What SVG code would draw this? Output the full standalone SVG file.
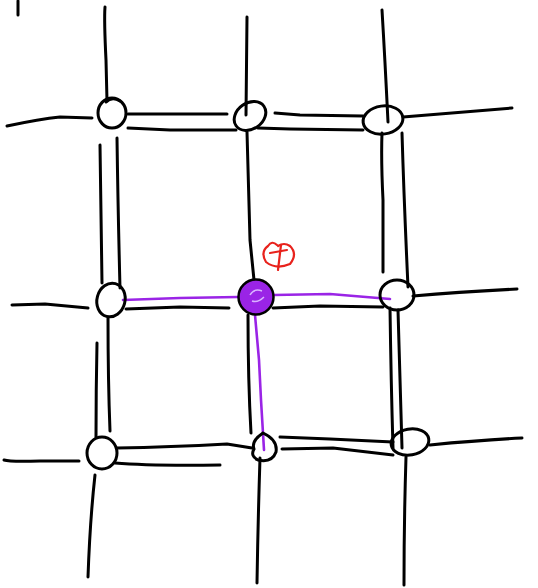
<svg xmlns="http://www.w3.org/2000/svg" width="538" height="588" viewBox="0 0 538 588">
<style>
.k{fill:none;stroke:#000;stroke-width:3;stroke-linecap:round;stroke-linejoin:round}
.n{fill:none;stroke:#000;stroke-width:3}
.p{fill:none;stroke:#9a24e6;stroke-width:2.6;stroke-linecap:round}
.r{fill:none;stroke:#e8221c;stroke-width:2.2;stroke-linecap:round;stroke-linejoin:round}
</style>
<rect width="538" height="588" fill="#fff"/>
<g id="connectors">
<path class="k" d="M18 1 L18 15"/>
<!-- top verticals -->
<path class="k" d="M105 7 Q104 20 106 60 L107 101"/>
<path class="k" d="M247 17 L246 115"/>
<path class="k" d="M382 10 Q385 60 388 122"/>
<!-- row 1 horizontals -->
<path class="k" d="M7 126 Q40 119 60 117 L92 118"/>
<path class="k" d="M128 114 L170 114 L227 114"/>
<path class="k" d="M128 128 L170 130 L236 130"/>
<path class="k" d="M258 128 L290 129 L363 130"/>
<path class="k" d="M275 113 L300 115 L363 116"/>
<path class="k" d="M403 117 Q450 113 512 108"/>
<!-- between row1 and row2 -->
<path class="k" d="M100 145 Q101 210 102 283"/>
<path class="k" d="M117 138 Q118 210 120 288"/>
<path class="k" d="M247 132 Q249 200 250 240 L254 280"/>
<path class="k" d="M382 133 Q381 160 383 200 L383 272"/>
<path class="k" d="M402 133 Q404 200 408 287"/>
<!-- row 2 horizontals -->
<path class="k" d="M12 305 L45 304 L88 308"/>
<path class="k" d="M126 309 L180 307 L229 308"/>
<path class="k" d="M273 308 L320 306 L383 307"/>
<path class="k" d="M413 296 Q460 292 517 289"/>
<!-- between row2 and row3 -->
<path class="k" d="M97 343 Q96 390 96 437"/>
<path class="k" d="M108 317 Q108 380 110 431"/>
<path class="k" d="M248 315 Q248 380 251 433"/>
<path class="k" d="M390 308 Q391 380 393 448"/>
<path class="k" d="M398 310 Q400 380 402 448"/>
<!-- row 3 horizontals -->
<path class="k" d="M4 460 Q10 462 40 461 L79 461"/>
<path class="k" d="M117 448 Q170 447 227 444 L252 448"/>
<path class="k" d="M115 463 Q150 466 220 465"/>
<path class="k" d="M280 437 L330 439 L393 442"/>
<path class="k" d="M282 449 L333 448 L393 455"/>
<path class="k" d="M430 445 Q480 440 522 438"/>
<!-- bottom verticals -->
<path class="k" d="M95 475 Q90 520 88 577"/>
<path class="k" d="M260 458 Q258 520 257 583"/>
<path class="k" d="M406 457 Q404 520 404 585"/>
<!-- purple path -->
<path class="p" d="M123 300 L180 298 L238 297"/>
<path class="p" d="M274 295 L330 294 L390 299"/>
<path class="p" d="M255 315 L259 360 L261 400 L264 450"/>
</g>
<g id="node-r1c1"><ellipse class="n" cx="112" cy="113" rx="14" ry="15"/><path class="k" d="M106 102 Q112 96 120 101"/></g>
<g id="node-r1c2"><ellipse class="n" cx="250" cy="116" rx="17" ry="13" transform="rotate(-35 250 116)"/></g>
<g id="node-r1c3"><ellipse class="n" cx="383" cy="120" rx="20" ry="14" transform="rotate(-8 383 120)"/></g>
<g id="node-r2c1"><ellipse class="n" cx="111" cy="300" rx="14" ry="17" transform="rotate(15 111 300)"/></g>
<g id="node-r2c2">
<circle cx="256" cy="297" r="17.5" fill="#9a24e6" stroke="#000" stroke-width="2.5"/>
<path d="M250 295 Q254 288 262 291 M252 301 Q258 303 264 297" fill="none" stroke="#d9b3ff" stroke-width="1.5"/>
</g>
<g id="node-r2c3"><ellipse class="n" cx="397" cy="295" rx="17" ry="15"/></g>
<g id="node-r3c1"><ellipse class="n" cx="102" cy="453" rx="15" ry="16"/></g>
<g id="node-r3c2"><path class="n" d="M263 433 Q278 440 276 452 Q272 463 258 460 Q250 456 254 449 Q251 441 263 433 Z"/></g>
<g id="node-r3c3"><ellipse class="n" cx="410" cy="442" rx="19" ry="13" transform="rotate(-10 410 442)"/></g>
<g id="mark">
<path class="r" d="M277 245 Q272 240 268 246 Q260 252 266 262 Q276 270 290 264 Q298 254 290 246 Q284 242 278 246"/>
<path class="r" d="M270 253 L287 250"/>
<path class="r" d="M281 245 L278 270"/>
</g>
</svg>
